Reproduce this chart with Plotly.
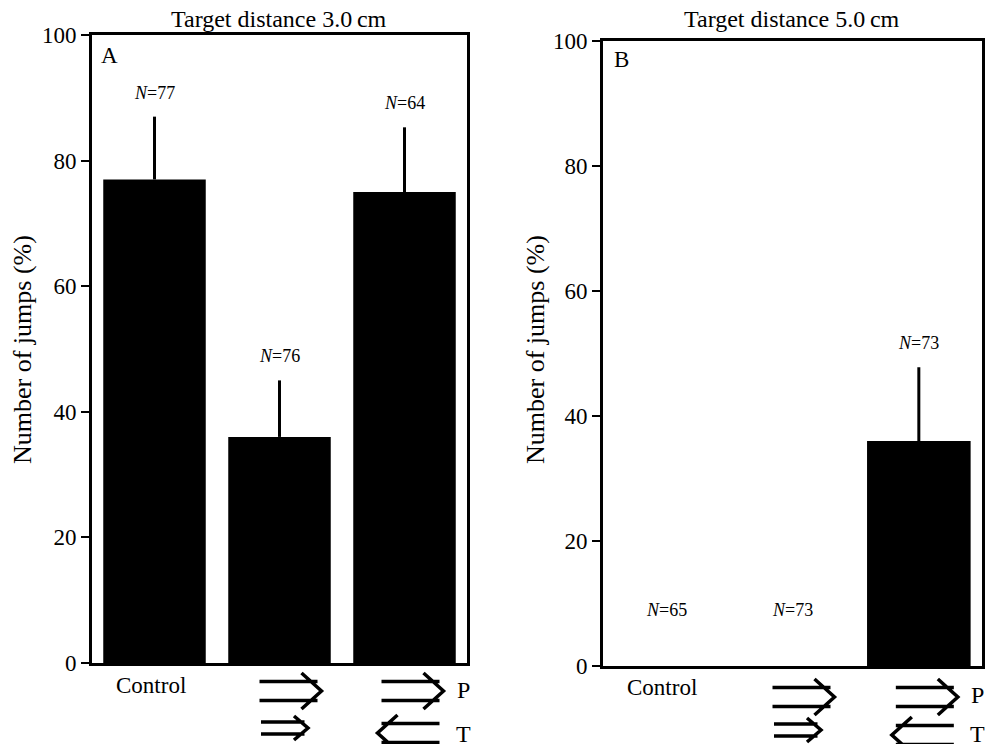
import plotly.graph_objects as go

# ---- data ----
categories = ["Control", "Same direction", "Opposite direction"]
panel_a_values = [77, 36, 75]
panel_a_errors = [10, 9, 10.3]
panel_a_n = [77, 76, 64]
panel_b_values = [0, 0, 36]
panel_b_errors = [0, 0, 11.8]
panel_b_n = [65, 73, 73]
y_ticks = [0, 20, 40, 60, 80, 100]
titles = ["Target distance 3.0\u2009cm", "Target distance 5.0\u2009cm"]
panel_letters = ["A", "B"]

# page body has an 8px margin; figure sized to fit the 998x752 window
OFF = 8
W, H = 998 - 2 * OFF, 752 - 2 * OFF
SERIF = "Liberation Serif"


def py(px):
    return 1 - (px - OFF) / H


def px_x(px):
    return (px - OFF) / W


fig = go.Figure()

panels = [
    dict(vals=panel_a_values, errs=panel_a_errors, ns=panel_a_n, xa="x", ya="y",
         xdom=[px_x(92), px_x(467)], ydom=[py(663), py(35)]),
    dict(vals=panel_b_values, errs=panel_b_errors, ns=panel_b_n, xa="x2", ya="y2",
         xdom=[px_x(603), px_x(982)], ydom=[py(666), py(41)]),
]

for p in panels:
    fig.add_trace(go.Bar(
        x=categories, y=p["vals"], xaxis=p["xa"], yaxis=p["ya"],
        marker=dict(color="black", line=dict(width=0)),
        error_y=dict(type="data", symmetric=False, array=p["errs"],
                     arrayminus=[0] * len(p["errs"]), width=0,
                     thickness=3, color="black"),
        showlegend=False, hoverinfo="skip",
    ))

axis_common = dict(showline=True, linecolor="black", linewidth=3, mirror=True,
                   showgrid=False, zeroline=False)

layout = dict(
    width=W, height=H, paper_bgcolor="white", plot_bgcolor="white",
    margin=dict(l=0, r=0, t=0, b=0, autoexpand=False), bargap=0.18, showlegend=False,
    font=dict(family=SERIF, color="black"),
)
for i, p in enumerate(panels):
    sfx = "" if i == 0 else "2"
    layout["xaxis" + sfx] = dict(axis_common, domain=p["xdom"], anchor="y" + sfx,
                                 showticklabels=False, ticks="",
                                 categoryorder="array", categoryarray=categories,
                                 range=[-0.5, 2.5])
    layout["yaxis" + sfx] = dict(axis_common, domain=p["ydom"], anchor="x" + sfx,
                                 range=[0, 100], tickvals=y_ticks,
                                 ticks="outside", ticklen=8, tickwidth=2,
                                 tickcolor="black",
                                 tickfont=dict(family=SERIF, size=23, color="black"))
fig.update_layout(**layout)

ann = []
title_x = [279, 792]
ytitle_x = [22, 535]
letter_pos = [(109, 55), (621, 60)]


def text_ann(**kw):
    d = dict(showarrow=False, xanchor="center", yanchor="middle")
    d.update(kw)
    return d


for i, p in enumerate(panels):
    ann.append(text_ann(text=titles[i], x=px_x(title_x[i]), y=py(19), xref="paper", yref="paper",
                        font=dict(family=SERIF, size=24, color="black")))
    ann.append(text_ann(text="Number of jumps (%)", x=px_x(ytitle_x[i]), y=py(350), xref="paper",
                        yref="paper", textangle=-90,
                        font=dict(family=SERIF, size=26, color="black")))
    ann.append(text_ann(text=panel_letters[i], x=px_x(letter_pos[i][0]), y=py(letter_pos[i][1]),
                        xref="paper", yref="paper",
                        font=dict(family=SERIF, size=23, color="black")))
    for c, v, e, n in zip(categories, p["vals"], p["errs"], p["ns"]):
        top = v + e
        shift = 24 if top > 0 else 56
        ann.append(text_ann(text=f"<i>N</i>={n}", x=c, y=top, xref=p["xa"], yref=p["ya"],
                            yshift=shift, font=dict(family=SERIF, size=18, color="black")))

label_rows = [dict(ctrl=685, big=691, small=728, P=690, T=734, left=733),
              dict(ctrl=687, big=697, small=730, P=695, T=734, left=735)]


def right_arrow(dx, half, sep, head_h, head_d, line_end):
    return (f"M {dx - half} {sep} L {dx + line_end} {sep} "
            f"M {dx - half} {-sep} L {dx + line_end} {-sep} "
            f"M {dx + half - head_d} {head_h} L {dx + half} 0 L {dx + half - head_d} {-head_h}")


def left_arrow(dx, half, sep, head_h, head_d, line_end):
    return (f"M {dx + half} {sep} L {dx - line_end} {sep} "
            f"M {dx + half} {-sep} L {dx - line_end} {-sep} "
            f"M {dx - half + head_d} {head_h} L {dx - half} 0 L {dx - half + head_d} {-head_h}")


shapes = []
ARROW_LINE = dict(color="black", width=3.5)
for i, p in enumerate(panels):
    r = label_rows[i]
    ann.append(text_ann(text=categories[0], x=categories[0], y=py(r["ctrl"]), xref=p["xa"],
                        yref="paper", xshift=-4,
                        font=dict(family=SERIF, size=23, color="black")))
    arrows = [
        (categories[1], r["big"], right_arrow(11, 31, 9.5, 18, 20, 27)),
        (categories[1], r["small"], right_arrow(5, 23.5, 6, 12, 14, 20)),
        (categories[2], r["big"], right_arrow(8, 31, 9.5, 18, 20, 27)),
        (categories[2], r["left"], left_arrow(4, 31, 9.5, 18, 20, 27)),
    ]
    for cat, ypix, path in arrows:
        shapes.append(dict(type="path", path=path, xref=p["xa"], yref="paper",
                           xsizemode="pixel", ysizemode="pixel",
                           xanchor=cat, yanchor=py(ypix), line=ARROW_LINE))
    ann.append(text_ann(text="P", x=categories[2], y=py(r["P"]), xref=p["xa"], yref="paper",
                        xshift=59, font=dict(family=SERIF, size=24, color="black")))
    ann.append(text_ann(text="T", x=categories[2], y=py(r["T"]), xref=p["xa"], yref="paper",
                        xshift=59, font=dict(family=SERIF, size=24, color="black")))

fig.update_layout(annotations=ann, shapes=shapes)
fig.write_html("out.html")
